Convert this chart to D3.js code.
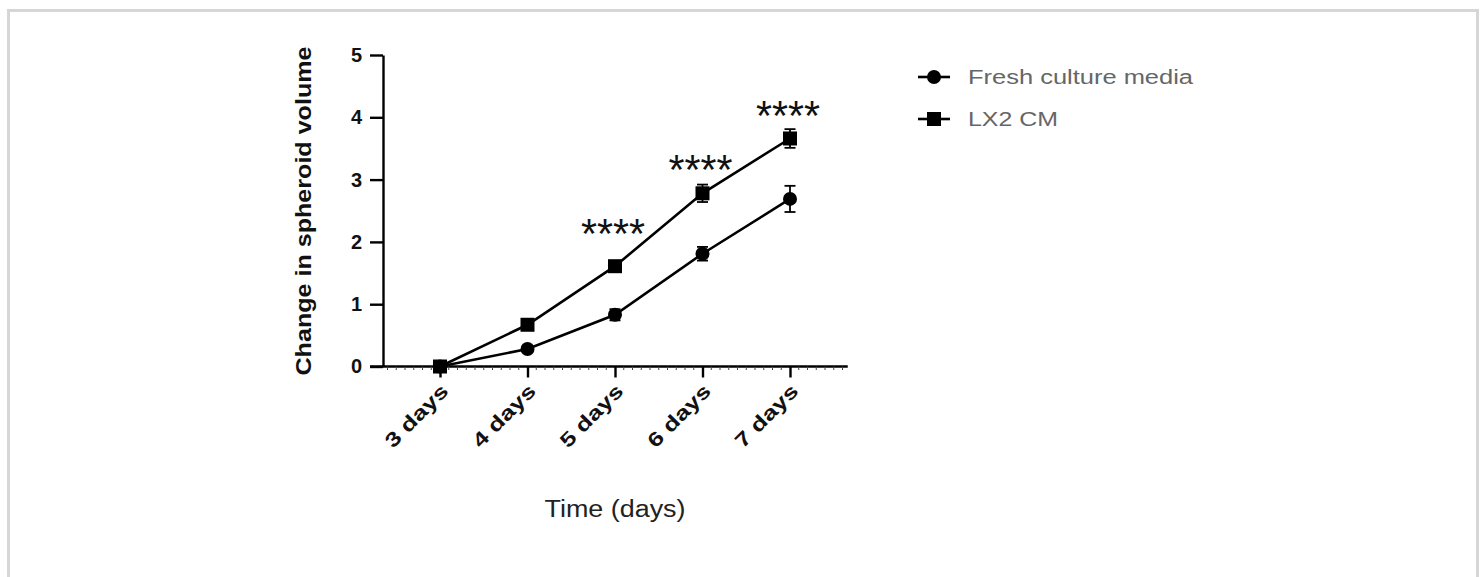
<!DOCTYPE html>
<html lang="en">
<head>
<meta charset="UTF-8">
<title>Spheroid volume</title>
<script src="https://d3js.org/d3.v7.min.js"></script>
<style>
    html, body { margin: 0; height: 100%; overflow: hidden; background: #fff; }
    text { font-family: "Liberation Sans", Arial, sans-serif; }
</style>
</head>
<body>
<svg id="svg"></svg>
<script>
    const days = [3, 4, 5, 6, 7];
    const dayLabels = ['3 days', '4 days', '5 days', '6 days', '7 days'];
    const fresh = [0, 0.28, 0.83, 1.81, 2.69];
    const freshErr = [0.02, 0.04, 0.09, 0.11, 0.21];
    const lx2 = [0, 0.67, 1.61, 2.78, 3.66];
    const lx2Err = [0.02, 0.05, 0.06, 0.14, 0.15];
    const sigLabels = ['', '', '****', '****', '****'];
    const sigY = [null, null, 2.28, 3.32, 4.18];
    const yTicks = [0, 1, 2, 3, 4, 5];
    const seriesNames = ['Fresh culture media', 'LX2 CM'];

    const width = 1483, height = 577;
    const svg = d3.select('#svg').attr('width', width).attr('height', height);

    // light frame
    svg.append('rect')
        .attr('x', 8.5).attr('y', 10.5)
        .attr('width', 1469).attr('height', 600)
        .attr('fill', 'none').attr('stroke', '#d6d6d6').attr('stroke-width', 3);

    const x = d3.scaleLinear().domain([3, 7]).range([440, 790]);
    const y = d3.scaleLinear().domain([0, 5]).range([366.5, 55]);
    const yAxisX = 383;
    const font = '"Liberation Sans", Arial, sans-serif';

    // y axis
    const yAxis = svg.append('g')
        .attr('transform', `translate(${yAxisX},0)`)
        .call(d3.axisLeft(y).tickValues(yTicks).tickFormat(d3.format('d'))
            .tickSize(13).tickSizeOuter(0).tickPadding(8));
    yAxis.select('.domain').attr('stroke', '#000').attr('stroke-width', 2.4);
    yAxis.selectAll('.tick line').attr('stroke', '#000').attr('stroke-width', 2.4);
    yAxis.selectAll('.tick text')
        .attr('fill', '#111').attr('font-size', 20).attr('font-weight', 'bold')
        .style('font-family', font);

    // x axis
    const xAxis = svg.append('g')
        .attr('transform', `translate(0,${y(0)})`)
        .call(d3.axisBottom(x).tickValues(days).tickFormat((d, i) => dayLabels[i]).tickSize(11).tickSizeOuter(0));
    xAxis.select('.domain').remove();
    xAxis.append('line')
        .attr('x1', 370).attr('x2', x(7.66))
        .attr('stroke', '#000').attr('stroke-width', 2.4);
    xAxis.selectAll('.tick line').attr('stroke', '#000').attr('stroke-width', 2.4);
    xAxis.selectAll('.minor').data(d3.range(24, 77).map(v => v / 10).filter(v => Math.abs(v - Math.round(v)) > 0.01))
        .join('line').attr('class', 'minor')
        .attr('x1', d => x(d)).attr('x2', d => x(d))
        .attr('y1', 0).attr('y2', 3.5)
        .attr('stroke', '#444').attr('stroke-width', 1);
    xAxis.selectAll('.tick text')
        .attr('fill', '#111').attr('font-size', 20).attr('font-weight', 'bold')
        .style('font-family', font)
        .attr('text-anchor', 'end')
        .attr('textLength', 80).attr('lengthAdjust', 'spacingAndGlyphs')
        .attr('dy', null).attr('y', 0)
        .attr('transform', 'translate(9,26) rotate(-45)');

    // axis titles
    svg.append('text')
        .attr('transform', `translate(311,211) rotate(-90)`)
        .attr('text-anchor', 'middle')
        .attr('font-size', 22).attr('font-weight', 'bold').attr('fill', '#111')
        .attr('textLength', 329).attr('lengthAdjust', 'spacingAndGlyphs')
        .text('Change in spheroid volume');

    svg.append('text')
        .attr('x', 615).attr('y', 517)
        .attr('text-anchor', 'middle')
        .attr('font-size', 23).attr('fill', '#222')
        .attr('textLength', 141).attr('lengthAdjust', 'spacingAndGlyphs')
        .text('Time (days)');

    const line = d3.line().x((d, i) => x(days[i])).y(d => y(d));

    function errorBars(vals, errs) {
        const g = svg.append('g').attr('stroke', '#000').attr('stroke-width', 1.8);
        days.forEach((d, i) => {
            const cx = x(d);
            g.append('line').attr('x1', cx).attr('x2', cx).attr('y1', y(vals[i] - errs[i])).attr('y2', y(vals[i] + errs[i]));
            [vals[i] - errs[i], vals[i] + errs[i]].forEach(v => {
                g.append('line').attr('x1', cx - 5.5).attr('x2', cx + 5.5).attr('y1', y(v)).attr('y2', y(v));
            });
        });
    }

    // fresh culture media (circles)
    svg.append('path').datum(fresh).attr('d', line)
        .attr('fill', 'none').attr('stroke', '#000').attr('stroke-width', 2.6);
    errorBars(fresh, freshErr);
    svg.selectAll('.fresh-pt').data(fresh).join('circle').attr('class', 'fresh-pt')
        .attr('cx', (d, i) => x(days[i])).attr('cy', d => y(d)).attr('r', 7).attr('fill', '#000');

    // LX2 CM (squares)
    svg.append('path').datum(lx2).attr('d', line)
        .attr('fill', 'none').attr('stroke', '#000').attr('stroke-width', 2.6);
    errorBars(lx2, lx2Err);
    svg.selectAll('.lx2-pt').data(lx2).join('rect').attr('class', 'lx2-pt')
        .attr('x', (d, i) => x(days[i]) - 7).attr('y', d => y(d) - 7)
        .attr('width', 14).attr('height', 14).attr('fill', '#000');

    // significance stars
    svg.selectAll('.sig').data(days.filter((d, i) => sigLabels[i]))
        .join('text').attr('class', 'sig')
        .attr('x', d => x(d) - 2)
        .attr('y', d => y(sigY[days.indexOf(d)]) + 24)
        .attr('text-anchor', 'middle')
        .attr('font-size', 42).attr('fill', '#111')
        .attr('textLength', 64).attr('lengthAdjust', 'spacingAndGlyphs')
        .text(d => sigLabels[days.indexOf(d)]);

    // legend
    const legend = svg.append('g').attr('transform', 'translate(918,77)');
    seriesNames.forEach((name, i) => {
        const row = legend.append('g').attr('transform', `translate(0,${i * 42})`);
        row.append('line').attr('x1', 0).attr('x2', 32).attr('stroke', '#000').attr('stroke-width', 2.6);
        if (i === 0) row.append('circle').attr('cx', 16).attr('r', 7).attr('fill', '#000');
        else row.append('rect').attr('x', 9).attr('y', -7).attr('width', 14).attr('height', 14).attr('fill', '#000');
        row.append('text').attr('x', 50).attr('y', 7)
            .attr('font-size', 20).attr('fill', '#666')
            .attr('textLength', i === 0 ? 225 : 90).attr('lengthAdjust', 'spacingAndGlyphs')
            .text(name);
    });
</script>
</body>
</html>
